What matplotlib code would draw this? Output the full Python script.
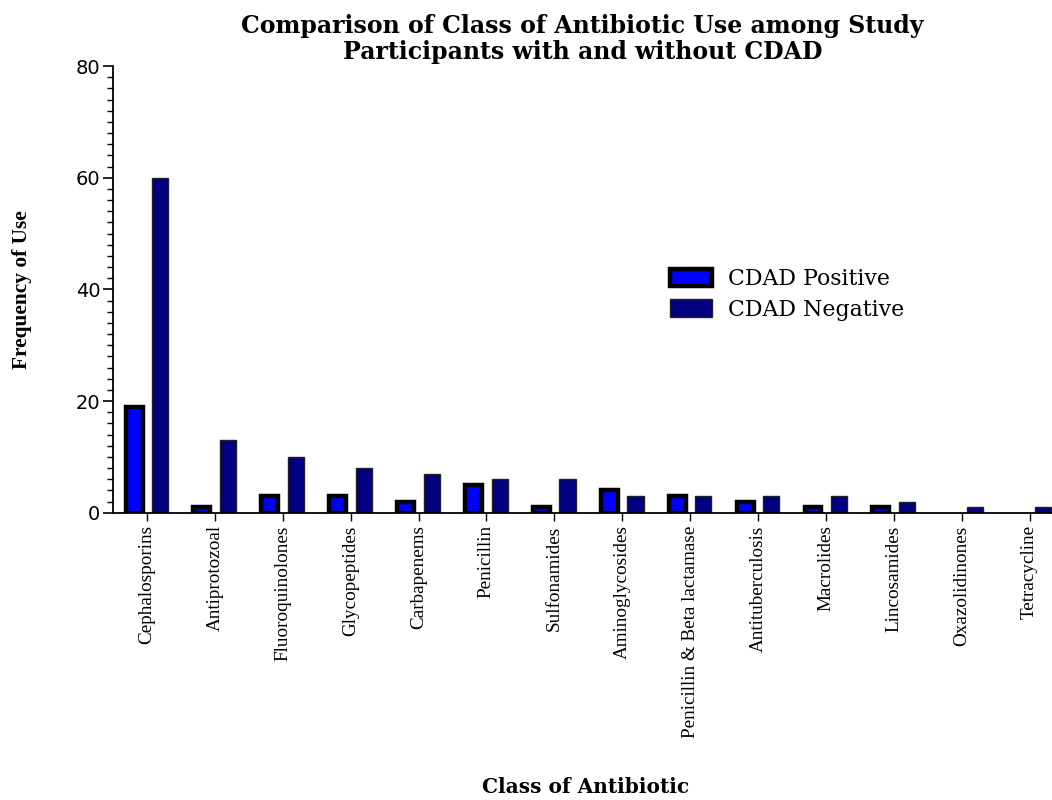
import matplotlib
matplotlib.use("Agg")
import matplotlib.pyplot as plt
import numpy as np
from matplotlib.ticker import MultipleLocator

categories = ["Cephalosporins", "Antiprotozoal", "Fluoroquinolones", "Glycopeptides",
              "Carbapenems", "Penicillin", "Sulfonamides", "Aminoglycosides",
              "Penicillin & Beta lactamase", "Antituberculosis", "Macrolides",
              "Lincosamides", "Oxazolidinones", "Tetracycline"]
cdad_positive = [19, 1, 3, 3, 2, 5, 1, 4, 3, 2, 1, 1, 0, 0]
cdad_negative = [60, 13, 10, 8, 7, 6, 6, 3, 3, 3, 3, 2, 1, 1]

serif_narrow = ["Liberation Serif", "DejaVu Serif"]
serif_wide = ["DejaVu Serif"]

fig = plt.figure(figsize=(10.52, 8), dpi=100)
ax = fig.add_axes([0.1074, 0.359, 0.8926, 0.5585])

x = np.arange(len(categories))
pos_bars = ax.bar(x - 0.19, cdad_positive, width=0.25, color="#0000FF", edgecolor="black",
                  linewidth=3.2, label="CDAD Positive")
neg_bars = ax.bar(x + 0.195, cdad_negative, width=0.24, color="#000080", edgecolor="#222222",
                  linewidth=1.0, label="CDAD Negative")
# empty counts get no visible bar outline
for bars in (pos_bars, neg_bars):
    for p in bars.patches:
        if p.get_height() == 0:
            p.set_visible(False)

ax.set_xlim(-0.5, 13.33)
ax.set_ylim(0, 80)
ax.yaxis.set_major_locator(MultipleLocator(20))
ax.yaxis.set_minor_locator(MultipleLocator(2))
ax.set_xticks(x)
ax.set_xticklabels(categories, rotation=90, fontsize=13.8, family=serif_narrow)
for lbl in ax.get_yticklabels():
    lbl.set_family(["DejaVu Sans"])
    lbl.set_fontsize(14)
ax.tick_params(axis="y", which="major", length=7, width=1.2, pad=2)
ax.tick_params(axis="y", which="minor", length=4, width=1.0)
ax.tick_params(axis="x", length=6, width=1.0, pad=3)

for s in ["top", "right"]:
    ax.spines[s].set_visible(False)
for s in ["left", "bottom"]:
    ax.spines[s].set_linewidth(1.3)

ax.set_title("Comparison of Class of Antibiotic Use among Study\nParticipants with and without CDAD",
             family=serif_wide, fontsize=17, fontweight="bold", linespacing=1.1, pad=5)
fig.text(0.021, 0.6375, "Frequency of Use", rotation=90, ha="center", va="center",
         family=serif_narrow, fontsize=15.4, fontweight="bold")
fig.text(0.557, 0.004, "Class of Antibiotic", ha="center", va="bottom",
         family=serif_wide, fontsize=14.5, fontweight="bold")

leg = ax.legend(loc="upper left", bbox_to_anchor=(0.593, 0.448, 0.4, 0.1), frameon=False,
                prop={"family": serif_wide, "size": 15.8}, handlelength=1.9, handleheight=0.85,
                handletextpad=0.75, labelspacing=0.4, borderaxespad=0, borderpad=0)

fig.savefig("out.png", dpi=100)
